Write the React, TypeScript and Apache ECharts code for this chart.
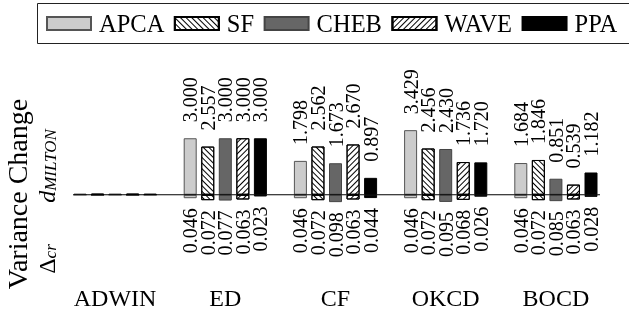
import React, { useEffect, useRef } from 'react';
import * as echarts from 'echarts';

const categories = ['ADWIN', 'ED', 'CF', 'OKCD', 'BOCD'];
const methods = ['APCA', 'SF', 'CHEB', 'WAVE', 'PPA'];

// d_MILTON (upper half)
const apcaD = [0, 3.0, 1.798, 3.429, 1.684];
const sfD = [0, 2.557, 2.562, 2.456, 1.846];
const chebD = [0, 3.0, 1.673, 2.43, 0.851];
const waveD = [0, 3.0, 2.67, 1.736, 0.539];
const ppaD = [0, 3.0, 0.897, 1.72, 1.182];

// Delta_cr (lower half)
const apcaCr = [0, 0.046, 0.046, 0.046, 0.046];
const sfCr = [0, 0.072, 0.072, 0.072, 0.072];
const chebCr = [0, 0.077, 0.098, 0.095, 0.085];
const waveCr = [0, 0.063, 0.063, 0.068, 0.063];
const ppaCr = [0, 0.023, 0.044, 0.026, 0.028];

// extent of the zero line, in category-index units
const baselineX = [-0.38, 4.4];

const FONT = "'Liberation Serif', 'Times New Roman', serif";

function hatch(dir: number) {
  return {
    symbol: 'rect',
    symbolSize: 1,
    color: '#000',
    backgroundColor: 'rgba(0,0,0,0)',
    dashArrayX: [1, 0],
    dashArrayY: [1, 3],
    rotation: (dir * Math.PI) / 4,
  };
}

export default function App() {
  const ref = useRef<HTMLDivElement>(null);
  useEffect(() => {
    const chart = echarts.init(ref.current!, null, { renderer: 'svg' });
    const ups = [apcaD, sfD, chebD, waveD, ppaD];
    const downs = [apcaCr, sfCr, chebCr, waveCr, ppaCr];
    const styles: any[] = [
      { color: '#cccccc', borderColor: '#555555' },
      { color: '#ffffff', borderColor: '#000000', decal: hatch(1) },
      { color: '#666666', borderColor: '#444444' },
      { color: '#ffffff', borderColor: '#000000', decal: hatch(-1) },
      { color: '#000000', borderColor: '#000000' },
    ];
    const fmt = (p: any) => {
      const v = Math.abs(p.value);
      return v === 0 ? '' : v.toFixed(3);
    };
    const series: any[] = [];
    methods.forEach((m, i) => {
      series.push({
        type: 'bar',
        name: m,
        stack: m,
        xAxisIndex: 0,
        yAxisIndex: 0,
        data: ups[i],
        barWidth: 13,
        barGap: '35%',
        barMinHeight: 1,
        itemStyle: { ...styles[i], borderWidth: 1 },
        label: {
          show: true,
          position: 'top',
          rotate: 90,
          align: 'left',
          verticalAlign: 'middle',
          distance: 5,
          padding: [0, 0, 0, 11],
          formatter: fmt,
          color: '#000',
          fontFamily: FONT,
          fontSize: 20,
        },
      });
      series.push({
        type: 'bar',
        name: m,
        stack: m,
        xAxisIndex: 0,
        yAxisIndex: 1,
        data: downs[i].map((v) => -v),
        barWidth: 13,
        barGap: '35%',
        itemStyle: { ...styles[i], borderWidth: 1 },
        label: {
          show: true,
          position: 'bottom',
          rotate: 90,
          align: 'right',
          verticalAlign: 'middle',
          distance: 5,
          padding: [0, 5, 0, 0],
          formatter: fmt,
          color: '#000',
          fontFamily: FONT,
          fontSize: 20,
        },
      });
    });
    series.push({
      type: 'line',
      xAxisIndex: 1,
      yAxisIndex: 0,
      data: baselineX.map((x) => [x, 0]),
      symbol: 'none',
      lineStyle: { color: '#000', width: 1 },
      z: 5,
      silent: true,
    });

    chart.setOption({
      animation: false,
      legend: {
        data: methods,
        left: 37,
        top: 3,
        width: 590,
        padding: [8, 0, 8, 9],
        borderWidth: 0,
        itemWidth: 44,
        itemHeight: 13,
        itemGap: 9.5,
        icon: 'rect',
        textStyle: { fontFamily: FONT, fontSize: 24.5, color: '#000', padding: [0, 0, 0, 3] },
      },
      grid: { left: 60, right: 18, top: 110, height: 113 },
      xAxis: [
        {
          type: 'category',
          data: categories,
          axisLine: { show: false },
          axisTick: { show: false },
          splitLine: { show: false },
          axisLabel: { fontFamily: FONT, fontSize: 24, color: '#000', margin: 63 },
        },
        { type: 'value', min: -0.5, max: 4.5, show: false },
      ],
      yAxis: [
        { type: 'value', min: -1.5, max: 4.5, show: false },
        { type: 'value', min: -0.375, max: 1.125, show: false },
      ],
      graphic: [
        {
          type: 'rect',
          shape: { x: 37.5, y: 3.5, width: 620, height: 40 },
          style: { fill: 'none', stroke: '#222', lineWidth: 1 },
          silent: true,
        },
        {
          type: 'text',
          x: 17.5,
          y: 194,
          rotation: Math.PI / 2,
          style: {
            text: 'Variance Change',
            fontFamily: FONT,
            fontSize: 28,
            fill: '#000',
            align: 'center',
            verticalAlign: 'middle',
          },
        },
        {
          type: 'text',
          x: 47,
          y: 259,
          rotation: Math.PI / 2,
          style: {
            text: '{a|Δ}{b|cr}',
            fill: '#000',
            align: 'center',
            verticalAlign: 'middle',
            rich: {
              a: { fontFamily: FONT, fontSize: 24, fill: '#000' },
              b: { fontFamily: FONT, fontSize: 17, fontStyle: 'italic', verticalAlign: 'bottom', fill: '#000' },
            },
          },
        },
        {
          type: 'text',
          x: 47,
          y: 166,
          rotation: Math.PI / 2,
          style: {
            text: '{a|d}{b|MILTON}',
            fill: '#000',
            align: 'center',
            verticalAlign: 'middle',
            rich: {
              a: { fontFamily: FONT, fontSize: 24, fontStyle: 'italic', fill: '#000' },
              b: { fontFamily: FONT, fontSize: 17, fontStyle: 'italic', verticalAlign: 'bottom', fill: '#000' },
            },
          },
        },
      ],
      series,
    });
    return () => chart.dispose();
  }, []);
  return <div ref={ref} style={{ width: 629, height: 314, position: 'fixed', left: 0, top: 0 }} />;
}
